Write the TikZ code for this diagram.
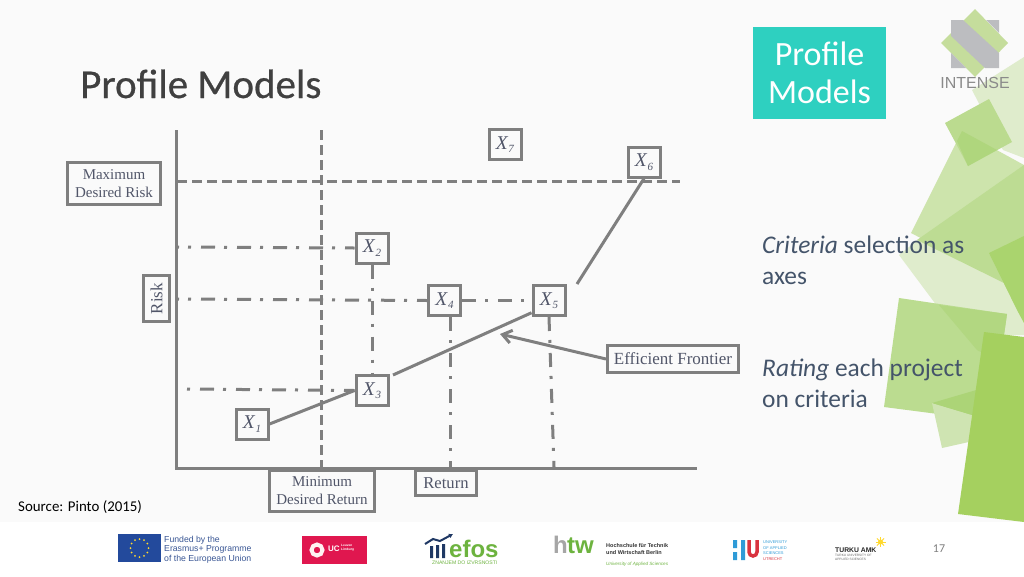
\documentclass[tikz,border=0pt]{standalone}
\usepackage{fontspec}
\usepackage{xcolor}
\usetikzlibrary{arrows.meta}
\setmainfont{Liberation Serif}
\newfontfamily\slidefont{Carlito}
\newfontfamily\titlefont[FakeBold=0.6]{Carlito}
\newfontfamily\logofont{Liberation Sans}
\definecolor{pagebg}{HTML}{FAFAFA}
\definecolor{linegray}{HTML}{7F7F7F}
\definecolor{boxtext}{HTML}{515669}
\definecolor{bodytext}{HTML}{44546A}
\definecolor{teal}{HTML}{2ED0C0}
\definecolor{efosgreen}{HTML}{6DB33F}
\definecolor{eublue}{HTML}{234A9C}
\definecolor{ucred}{HTML}{E0174F}
\definecolor{efosnavy}{HTML}{1F3864}
\definecolor{hublue}{HTML}{2F9BD7}
\definecolor{hured}{HTML}{D9333F}
\definecolor{sunyellow}{HTML}{FFD92E}
\definecolor{logogray}{HTML}{BCBDC0}
\definecolor{logogreen}{HTML}{C5DD9C}
\definecolor{logotxt}{HTML}{8A8A8A}
\definecolor{greenA}{HTML}{DFECCC}
\definecolor{greenB}{HTML}{CDE4AC}
\definecolor{greenC}{HTML}{BDDC93}
\definecolor{greenD}{HTML}{AAD46E}
\definecolor{greenE}{HTML}{BBDB8F}
\definecolor{greenF}{HTML}{AFD67D}
\definecolor{greenG}{HTML}{BBDC90}
\definecolor{greenH}{HTML}{B2D781}
\definecolor{greenI}{HTML}{CFE4B2}
\definecolor{greenJ}{HTML}{ACD477}
\definecolor{greenK}{HTML}{A5D05F}
\newcommand{\xname}[1]{\textit{X}\raisebox{-3.5pt}{\fontsize{11}{11}\selectfont\textit{#1}}}
\tikzset{
  pbox/.style={draw=linegray,line width=3pt,fill=pagebg,text=boxtext,inner sep=0pt,align=center,font=\fontsize{15}{18}\selectfont},
  xbox/.style={pbox,minimum width=32pt,minimum height=30pt,font=\fontsize{19.5}{22}\selectfont},
  solidline/.style={draw=linegray,line width=3pt},
  limitline/.style={solidline,dash pattern=on 10pt off 5pt},
  projline/.style={solidline,dash pattern=on 14pt off 9pt on 3pt off 10pt},
  dotfirst/.style={solidline,dash pattern=on 3pt off 10pt on 14pt off 9pt},
  bodyline/.style={anchor=base west,inner sep=0pt,text=bodytext,font=\slidefont\fontsize{25.4}{25.4}\selectfont},
  logotext/.style={anchor=base west,inner sep=0pt,font=\logofont\fontsize{#1}{#1}\selectfont}
}
\begin{document}
\begin{tikzpicture}[x=1pt,y=-1pt]
  \useasboundingbox (0,0) rectangle (1024,576);

  % slide background
  \fill[white] (0,0) rectangle (1024,576);
  \fill[pagebg] (0,0) rectangle (1024,522);

  % green shapes
  \fill[greenA] (972,90) -- (1024,57) -- (1024,158) -- (1003,150) -- cycle;
  \fill[greenA] (899,255) -- (940,310) -- (1004,335) -- (1024,335) -- (1024,230) -- (930,230) -- cycle;
  \fill[greenB] (962,131) -- (1024,165) -- (1024,300) -- (1001,280) -- (911,233) -- cycle;
  \fill[greenC] (917,240) -- (1024,165) -- (1024,322) -- (1004,283) -- cycle;
  \fill[greenD] (989,253) -- (1024,236) -- (1024,323) -- (1017,310) -- cycle;
  \fill[greenE] (945,123) -- (989,99) -- (1012,142) -- (968,166) -- cycle;
  \fill[greenF] (962,131) -- (997,150) -- (968,166) -- (957,141) -- cycle;
  \fill[greenG] (899,298) -- (1007,314) -- (992,421) -- (884,407) -- cycle;
  \fill[greenH] (939,305) -- (1007,314) -- (1000,362) -- (977,350) -- cycle;
  \fill[greenI] (932,403) -- (942,448) -- (1000,435) -- (992,421) -- cycle;
  \fill[greenJ] (932,403) -- (990,386) -- (992,421) -- cycle;
  \fill[greenK] (984,332) -- (1024,337) -- (1024,522) -- (958,514) -- cycle;

  % logo and title
  \fill[logogreen] (975,9) -- (1008,43) -- (975,77) -- (941,43) -- cycle;
  \fill[logogray] (951,20) -- (963,20) -- (999,53) -- (999,68) -- (985,68) -- (951,36) -- cycle;
  \fill[logogray] (986,20) -- (999,20) -- (999,33) -- cycle;
  \fill[logogray] (951,53) -- (966,68) -- (951,68) -- cycle;
  \node[logotext=16,text=logotxt,anchor=base] (intense) at (975,88.5) {INTENSE};
  \node[anchor=base west,inner sep=0pt,text=black!75,font=\titlefont\fontsize{41}{41}\selectfont] (title) at (80,98) {Profile Models};
  \node[fill=teal,text=white,minimum width=133pt,minimum height=92pt,inner sep=0pt,align=center,font=\slidefont\fontsize{34}{37.5}\selectfont] (tag) at (819.5,73) {\raisebox{1pt}{Profile}\\\raisebox{1pt}{Models}};

  \node[bodyline] (crit1) at (762,253) {\textit{Criteria} selection as};
  \node[bodyline] (crit2) at (762,284) {axes};
  \node[bodyline] (rate1) at (762,376) {\textit{Rating} each project};
  \node[bodyline] (rate2) at (762,407) {on criteria};
  \node[anchor=base west,inner sep=0pt,font=\slidefont\fontsize{14.9}{15}\selectfont] (source) at (18,511) {Source: Pinto (2015)};
  \node[text=black!50,font=\slidefont\fontsize{12}{12}\selectfont] (page) at (939,549) {17};

  % chart
  \coordinate (O) at (176,468);
  \coordinate (ytop) at (176,130);
  \coordinate (xend) at (697,468);
  \coordinate (mintop) at (321.5,130);
  \coordinate (minbot) at (321.5,467);
  \coordinate (maxl) at (177,181.5);
  \coordinate (maxr) at (680,181.5);
  \coordinate (y2) at (177,247);
  \coordinate (y4) at (177,299);
  \coordinate (y3) at (187,389);
  \coordinate (r4) at (450,467);
  \coordinate (r5) at (554,467);
  \coordinate (f1) at (393,375);
  \coordinate (f2) at (577,284);
  \coordinate (tip) at (500,334);

  \draw[limitline] (mintop) -- (minbot);
  \draw[limitline] (maxl) -- (maxr);

  \node[xbox] (X1) at (252,424) {\xname{1}};
  \node[xbox] (X2) at (372,248) {\xname{2}};
  \node[xbox] (X3) at (372,390.5) {\xname{3}};
  \node[xbox] (X4) at (444.5,300.5) {\xname{4}};
  \node[xbox] (X5) at (549,300.5) {\xname{5}};
  \node[xbox] (X6) at (644,162) {\xname{6}};
  \node[xbox] (X7) at (505,144.5) {\xname{7}};

  \draw[dotfirst,dash phase=25pt] (y2) -- (X2.west);
  \draw[dotfirst,dash phase=25pt] (y4) -- (X4.west);
  \draw[projline] (X4.east) -- (X5.west);
  \draw[dotfirst] (y3) -- (X3.west);
  \draw[projline] (X2.south) -- (X3.north);
  \draw[projline] (r4 |- X4.south) -- (r4);
  \draw[projline] (X5.south) -- (r5);

  \draw[solidline] (X1.east) -- (X3.west);
  \draw[solidline] (f1) -- (X5.215);
  \draw[solidline] (f2) -- (X6.south);

  \draw[solidline] (ytop) -- (O) -- (xend);

  \node[pbox,minimum width=93pt,minimum height=42pt] (maxrisk) at (114,183.5) {Maximum\\Desired Risk};
  \node[pbox,rotate=90,minimum width=46pt,minimum height=26pt,font=\fontsize{17}{18}\selectfont] (risk) at (156.5,298.5) {Risk};
  \node[pbox,minimum width=105pt,minimum height=41pt] (minret) at (322,491) {Minimum\\Desired Return};
  \node[pbox,minimum width=61pt,minimum height=25pt,font=\fontsize{16.6}{18}\selectfont] (ret) at (446,483) {Return};
  \node[pbox,minimum width=131pt,minimum height=27pt,font=\fontsize{17}{18}\selectfont] (frontier) at (673,359) {Efficient Frontier};
  \draw[solidline,-{Straight Barb[length=9pt,width=13pt]}] (frontier.west) -- (tip);

  % footer logos
  \fill[eublue] (118,534) rectangle (161,562);
  \foreach \a in {0,30,...,330}
    \fill[sunyellow] ({139.5+9*cos(\a)},{548+9*sin(\a)}) circle (1pt);
  \node[logotext=8.7,text=eublue!75!gray] (eu1) at (164,542) {Funded by the};
  \node[logotext=8.7,text=eublue!75!gray] (eu2) at (164,551.5) {Erasmus+ Programme};
  \node[logotext=8.7,text=eublue!75!gray] (eu3) at (164,561) {of the European Union};

  \fill[ucred] (302,536) rectangle (367,564);
  \draw[white!80!pink,line width=4pt] (317,550) circle (5.5pt);
  \node[logotext=8,text=white] (uc) at (328,551) {\textbf{UC}};
  \node[inner sep=0pt,align=left,text=white,font=\logofont\bfseries\fontsize{3.2}{4}\selectfont,anchor=west] (ucname) at (341,548) {Leuven\\Limburg};

  \draw[efosnavy,line width=2pt,-{Latex[length=4pt,width=5pt]}] (425,544) -- (433,539) -- (440,541) -- (453,534);
  \fill[efosnavy] (430,546) rectangle (433,558) (436,545) rectangle (439,558) (442,544) rectangle (445,558);
  \node[logotext=24,text=efosgreen] (efos) at (449,557) {\textbf{efos}};
  \node[logotext=5.1,text=efosgreen] (efos2) at (432,564.5) {ZNANJEM DO IZVRSNOSTI};

  \node[logotext=24,text=gray!70] (htwh) at (553,553) {\textbf{h}};
  \node[logotext=24,text=efosgreen] (htwt) at (567,553) {\textbf{tw}};
  \node[logotext=5.5,text=black!80] (htw1) at (606,547) {\textbf{Hochschule für Technik}};
  \node[logotext=5.5,text=black!80] (htw2) at (606,554) {\textbf{und Wirtschaft Berlin}};
  \node[logotext=4.6,text=efosgreen] (htw3) at (606,565) {\textit{University of Applied Sciences}};

  \fill[hublue] (733,540) rectangle (737,548) (733,552) rectangle (737,560) (741,540) rectangle (745,560);
  \draw[hured,line width=3.5pt] (749,540) -- (749,552) arc (180:360:4pt) -- (757,540);
  \node[logotext=4,text=hublue] (hu1) at (763,543.5) {UNIVERSITY};
  \node[logotext=4,text=hublue] (hu2) at (763,549) {OF APPLIED};
  \node[logotext=4,text=hublue] (hu3) at (763,554.5) {SCIENCES};
  \node[logotext=4,text=hured] (hu4) at (763,560) {UTRECHT};

  \node[logotext=6.8,text=black!85] (tu1) at (835,552) {\textbf{TURKU AMK}};
  \node[logotext=3.2,text=black!60] (tu2) at (835,556.5) {TURKU UNIVERSITY OF};
  \node[logotext=3.2,text=black!60] (tu3) at (835,560.5) {APPLIED SCIENCES};
  \fill[sunyellow] (880.5,542) circle (2.5pt);
  \foreach \a in {0,45,...,315}
    \draw[sunyellow,line width=.8pt] (880.5,542) -- ++(\a:5pt);

\end{tikzpicture}
\end{document}
